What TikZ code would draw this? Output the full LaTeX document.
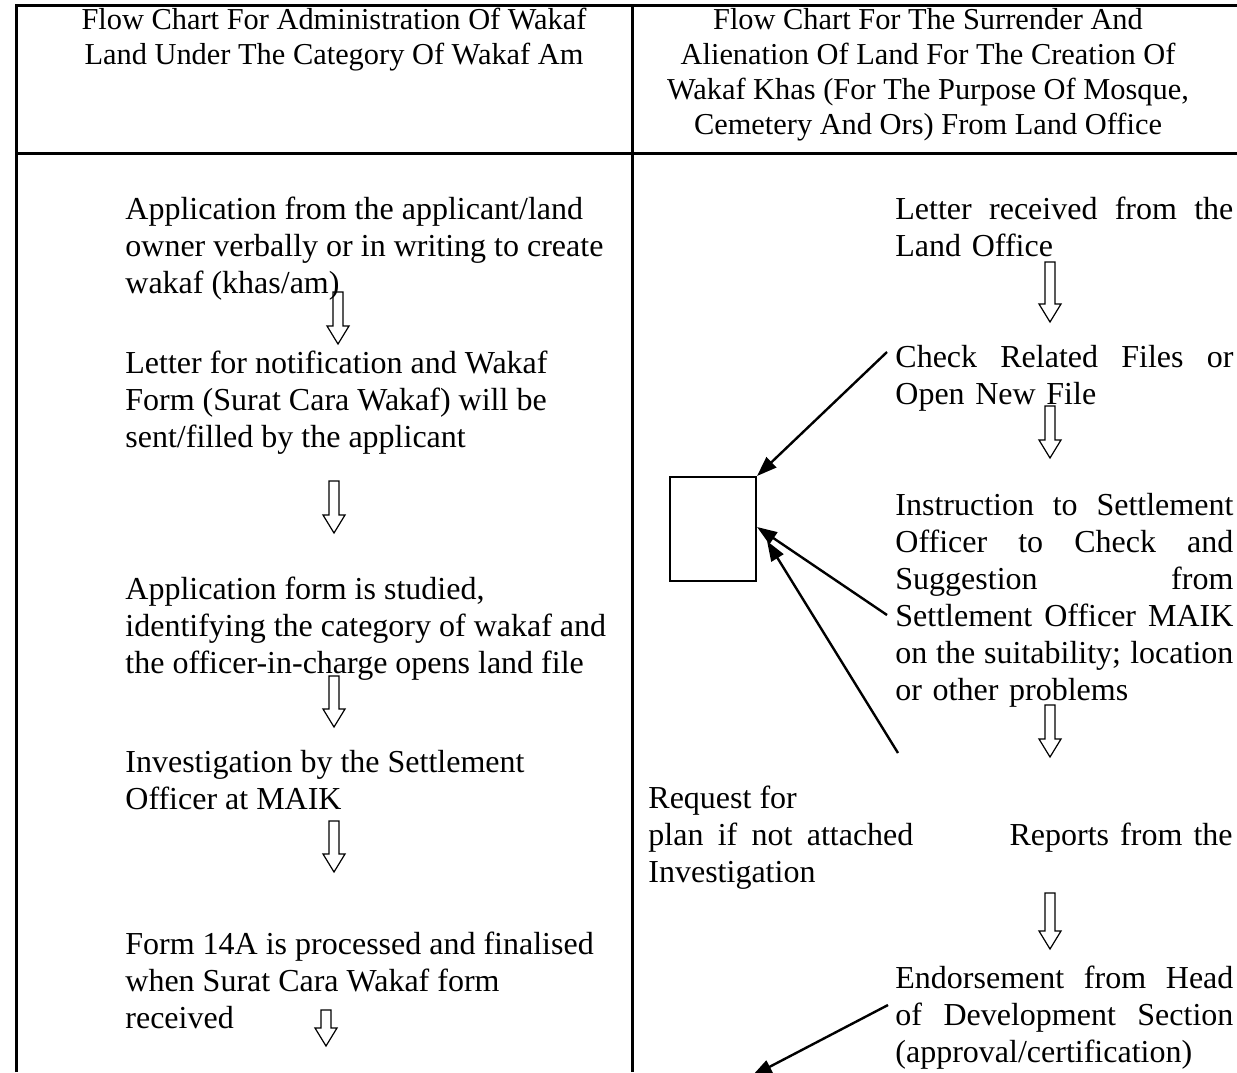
\documentclass[tikz,border=0pt]{standalone}
\usepackage{fontspec}
\setmainfont{Liberation Serif}
\usetikzlibrary{arrows.meta}

% Blocksatz-Zeile fuer die rechte Spalte
\newcommand{\jline}[1]{\makebox[169pt][s]{\spaceskip=0pt\xspaceskip=0pt\relax #1}}

\begin{document}
\begin{tikzpicture}[
    x=0.5pt, y=-0.5pt,
    font=\fontsize{16}{18.5}\selectfont,
    % Stile fuer Konsistenz
    frame/.style={line width=1.5pt},
    head_text/.style={font=\fontsize{15.2}{17.5}\selectfont, align=center, anchor=north, inner sep=0pt},
    left_text/.style={align=left, anchor=north west, inner sep=0pt},
    right_text/.style={text width=169pt, align=left, anchor=north west, inner sep=0pt},
    link/.style={line width=1.2pt, -{Triangle[length=10pt, width=7pt]}},
    pics/hollow/.style={code={
        \draw[line width=0.6pt] (-5,0) -- (5,0) -- (5,#1-18) -- (11,#1-18) -- (0,#1)
            -- (-11,#1-18) -- (-5,#1-18) -- cycle;
    }}
]
    \useasboundingbox (0,0) rectangle (1237,1072);

    % ==========================================
    % TABELLE
    % ==========================================
    \draw[frame] (16,1072) -- (16,5) -- (1237,5);
    \draw[frame] (16,153) -- (1237,153);
    \draw[frame] (632,5) -- (632,1072);

    \node[head_text] (headL) at (334,8) {Flow Chart For Administration Of Wakaf\\
        Land Under The Category Of Wakaf Am};
    \node[head_text] (headR) at (928,8) {Flow Chart For The Surrender And\\
        Alienation Of Land For The Creation Of\\
        Wakaf Khas (For The Purpose Of Mosque,\\
        Cemetery And Ors) From Land Office};

    % ==========================================
    % LINKE SPALTE (Wakaf Am)
    % ==========================================
    \node[left_text] (apply) at (125,197) {Application from the applicant/land\\
        owner verbally or in writing to create\\
        wakaf (khas/am)};
    \node[left_text] (notify) at (125,351) {Letter for notification and Wakaf\\
        Form (Surat Cara Wakaf) will be\\
        sent/filled by the applicant};
    \node[left_text] (study) at (125,577) {Application form is studied,\\
        identifying the category of wakaf and\\
        the officer-in-charge opens land file};
    \node[left_text] (invest) at (125,750) {Investigation by the Settlement\\
        Officer at MAIK};
    \node[left_text] (form) at (125,932) {Form 14A is processed and finalised\\
        when Surat Cara Wakaf form\\
        received};

    \pic at (338,292) {hollow=52};
    \pic at (334,481) {hollow=52};
    \pic at (334,676) {hollow=51};
    \pic at (334,821) {hollow=51};
    \pic at (326,1010) {hollow=36};

    % ==========================================
    % RECHTE SPALTE (Wakaf Khas)
    % ==========================================
    \node[right_text] (letter) at (895,197) {\jline{Letter received from the}\\
        Land Office};
    \node[right_text] (check) at (895,345) {\jline{Check Related Files or}\\
        Open New File};
    \node[right_text] (instr) at (895,493) {\jline{Instruction to Settlement}\\
        \jline{Officer to Check and}\\
        \jline{Suggestion from}\\
        \jline{Settlement Officer MAIK}\\
        \jline{on the suitability; location}\\
        or other problems};
    \node[left_text] (request) at (648,786) {Request for\\
        \makebox[132.5pt][s]{plan if not attached}\\
        Investigation};
    \node[left_text, anchor=north east] (reports) at (1233,823) {\makebox[111.5pt][s]{Reports from the}};
    \node[right_text] (endorse) at (895,966) {\jline{Endorsement from Head}\\
        \jline{of Development Section}\\
        (approval/certification)};

    \pic at (1050,262) {hollow=60};
    \pic at (1050,406) {hollow=52};
    \pic at (1050,705) {hollow=52};
    \pic at (1050,893) {hollow=56};

    % leeres Kaestchen links
    \node[draw, line width=1pt, anchor=north west, inner sep=0pt,
          minimum width=43pt, minimum height=52pt] (blank) at (669,476) {};

    \coordinate (fromCheck) at (887,352);
    \coordinate (fromInstr) at (887,615);
    \coordinate (fromReq) at (898,753);
    \coordinate (toBlankA) at (757,527);
    \coordinate (toBlankB) at (767,541);
    \coordinate (fromEnd) at (888,1005);
    \coordinate (toBelow) at (752,1076);

    \draw[link] (fromCheck) -- (blank.north east);
    \draw[link] (fromInstr) -- (toBlankA);
    \draw[link] (fromReq) -- (toBlankB);
    \draw[link] (fromEnd) -- (toBelow);

\end{tikzpicture}
\end{document}
